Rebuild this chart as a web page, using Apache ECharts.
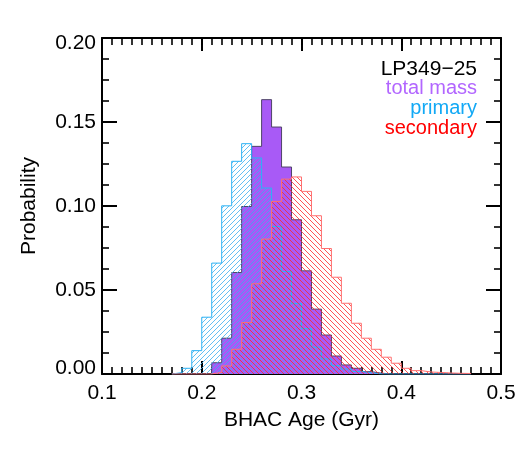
<!DOCTYPE html>
<html>
<head>
<meta charset="utf-8">
<script src="https://cdn.jsdelivr.net/npm/echarts@6/dist/echarts.min.js"></script>
<style>
html, body { margin: 0; padding: 0; background: #fff; }
#chart { width: 525px; height: 450px; }
</style>
</head>
<body>
<div id="chart"></div>
<script>
// left edges of the 0.01 Gyr bins
var ageBins = [0.17, 0.18, 0.19, 0.20, 0.21, 0.22, 0.23, 0.24, 0.25, 0.26,
               0.27, 0.28, 0.29, 0.30, 0.31, 0.32, 0.33, 0.34, 0.35, 0.36,
               0.37, 0.38, 0.39, 0.40, 0.41, 0.42, 0.43, 0.44, 0.45, 0.46];
var binWidth = 0.01;

var totalMass = [0, 0, 0, 0, 0.0067, 0.0213, 0.0604, 0.0997, 0.1355, 0.1633,
                 0.147, 0.1232, 0.0918, 0.0614, 0.0386, 0.0232, 0.0107, 0.0054, 0.0034, 0.0014,
                 0.0005, 0, 0, 0, 0, 0, 0, 0, 0, 0];
var primary = [0.0008, 0.0034, 0.0139, 0.0338, 0.066, 0.1001, 0.1266, 0.1371, 0.1286, 0.1107,
               0.0878, 0.061, 0.042, 0.027, 0.016, 0.009, 0.005, 0.003, 0.0015, 0.0008,
               0, 0, 0, 0, 0, 0, 0, 0, 0, 0];
var secondary = [0, 0, 0, 0, 0.001, 0.0048, 0.0147, 0.0306, 0.0537, 0.0803,
                 0.1027, 0.116, 0.1173, 0.1087, 0.0942, 0.0747, 0.0576, 0.0421, 0.0302, 0.0213,
                 0.0147, 0.01, 0.0064, 0.0034, 0.002, 0.0012, 0.0009, 0.0006, 0.0004, 0.0003];

var legendLines = ['LP349\u221225', 'total mass', 'primary', 'secondary'];
var legendColors = ['#000000', '#b266ff', '#12a9f5', '#ff0000'];

var FONT = '"Liberation Sans", Arial, Helvetica, sans-serif';

// histogram outline points, drawn with step:'end'
function stepData(vals) {
    var pts = [[ageBins[0], 0]];
    for (var i = 0; i < vals.length; i++) {
        pts.push([ageBins[i], vals[i]]);
    }
    pts.push([ageBins[ageBins.length - 1] + binWidth, 0]);
    return pts;
}

function hatch(color, size, dir) {
    var c = document.createElement('canvas');
    c.width = size;
    c.height = size;
    var ctx = c.getContext('2d');
    ctx.strokeStyle = color;
    ctx.lineWidth = 0.8;
    ctx.beginPath();
    if (dir > 0) {
        ctx.moveTo(0, size); ctx.lineTo(size, 0);
        ctx.moveTo(-1, 1); ctx.lineTo(1, -1);
        ctx.moveTo(size - 1, size + 1); ctx.lineTo(size + 1, size - 1);
    } else {
        ctx.moveTo(0, 0); ctx.lineTo(size, size);
        ctx.moveTo(-1, size - 1); ctx.lineTo(1, size + 1);
        ctx.moveTo(size - 1, -1); ctx.lineTo(size + 1, 1);
    }
    ctx.stroke();
    return c;
}

function xAxisDef(pos, minor) {
    return {
        type: 'value', position: pos, min: 0.1, max: 0.5, interval: minor ? 0.01 : 0.1,
        axisLine: { show: !minor, onZero: false, lineStyle: { color: '#000', width: 2 } },
        axisTick: { show: true, inside: true, length: minor ? 7 : 13, lineStyle: { color: '#000', width: minor ? 1.6 : 2 } },
        splitLine: { show: false },
        axisLabel: {
            show: pos === 'bottom' && !minor, margin: 9, color: '#000', fontSize: 21, fontFamily: FONT,
            formatter: function (v) { return v.toFixed(1); }
        },
        name: pos === 'bottom' && !minor ? 'BHAC Age (Gyr)' : '',
        nameLocation: 'middle', nameGap: 36,
        nameTextStyle: { color: '#000', fontSize: 21, fontFamily: FONT }
    };
}

function yAxisDef(pos, minor) {
    return {
        type: 'value', position: pos, min: 0, max: 0.2, interval: minor ? 0.0125 : 0.05,
        axisLine: { show: !minor, onZero: false, lineStyle: { color: '#000', width: 2 } },
        axisTick: { show: true, inside: true, length: minor ? 7 : 15, lineStyle: { color: '#000', width: minor ? 1.6 : 2 } },
        splitLine: { show: false },
        axisLabel: {
            show: pos === 'left' && !minor, margin: 6, color: '#000', fontSize: 21, fontFamily: FONT,
            formatter: function (v) {
                var s = v.toFixed(2);
                if (v >= 0.2) return '{hi|' + s + '}';
                if (v <= 0) return '{lo|' + s + '}';
                return s;
            },
            rich: {
                hi: { fontSize: 21, fontFamily: FONT, color: '#000', padding: [10, 0, 0, 0] },
                lo: { fontSize: 21, fontFamily: FONT, color: '#000', padding: [0, 0, 12, 0] }
            }
        },
        name: pos === 'left' && !minor ? 'Probability' : '',
        nameLocation: 'middle', nameGap: 62,
        nameTextStyle: { color: '#000', fontSize: 21, fontFamily: FONT }
    };
}

function histSeries(name, vals, lineColor, fill, z) {
    return {
        name: name, type: 'line', step: 'end', z: z,
        xAxisIndex: 0, yAxisIndex: 0,
        data: stepData(vals),
        symbol: 'none', showSymbol: false, silent: true,
        lineStyle: { color: lineColor, width: 1 },
        areaStyle: { color: fill, opacity: 1 }
    };
}

var legendTops = [59, 78, 98, 118];
var legendSizes = [21, 20, 20, 20];
var graphics = legendLines.map(function (t, i) {
    return {
        type: 'text', right: 48, top: legendTops[i], z: 100,
        style: { text: t, fill: legendColors[i], font: legendSizes[i] + 'px ' + FONT, textAlign: 'right' }
    };
});

var chart = echarts.init(document.getElementById('chart'));
chart.setOption({
    animation: false,
    backgroundColor: '#fff',
    grid: { left: 102, right: 24, top: 38, bottom: 76 },
    xAxis: [xAxisDef('bottom', false), xAxisDef('top', false), xAxisDef('bottom', true), xAxisDef('top', true)],
    yAxis: [yAxisDef('left', false), yAxisDef('right', false), yAxisDef('left', true), yAxisDef('right', true)],
    graphic: graphics,
    series: [
        histSeries('total mass', totalMass, '#4f4468', '#a85af6', 2),
        histSeries('primary', primary, '#2cb2f4', { image: hatch('#3aaef0', 5, 1), repeat: 'repeat' }, 3),
        histSeries('secondary', secondary, '#ff7070', { image: hatch('#ff2a2a', 5, -1), repeat: 'repeat' }, 4)
    ]
});
</script>
</body>
</html>
